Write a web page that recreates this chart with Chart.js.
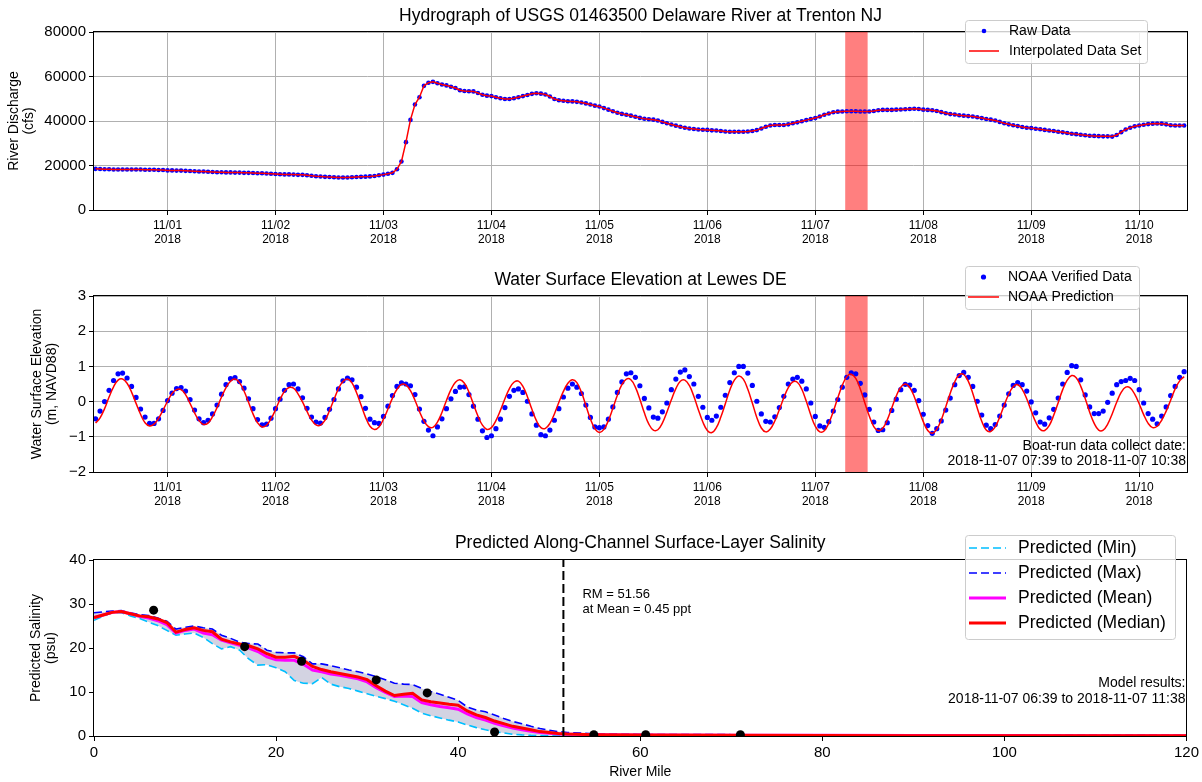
<!DOCTYPE html>
<html><head><meta charset="utf-8">
<script src="https://cdn.jsdelivr.net/npm/chart.js@4.4.1/dist/chart.umd.min.js"></script>
<style>
html,body{margin:0;padding:0;background:#fff;width:1202px;height:782px;overflow:hidden}
canvas{position:absolute;left:0}
#c1{top:0;width:1202px;height:262px}
#c2{top:262px;width:1202px;height:262px}
#c3{top:524px;width:1202px;height:258px}
</style></head><body>
<canvas id="c1" width="1202" height="262"></canvas>
<canvas id="c2" width="1202" height="262"></canvas>
<canvas id="c3" width="1202" height="258"></canvas>
<script>
// ---------------- DATA ----------------
// Panel 1: USGS discharge (cfs), hourly, starting 2018-10-31 08:00
const dischargeOct31 = [18500,18400,18300,18300,18200,18200,18200,18200,18200,18200,18200,18100,18100,18100,18000,18000];
const dischargeNov01 = [17800,17800,17700,17700,17600,17500,17400,17300,17300,17200,17100,17000,17000,16900,16900,16800,16800,16700,16700,16600,16500,16500,16400,16300];
const dischargeNov02 = [16200,16100,16000,16000,15900,15800,15800,15600,15400,15200,15050,14900,14800,14700,14600,14600,14600,14700,14800,14900,15000,15100,15300,15600];
const dischargeNov03 = [15900,16300,16700,18300,21800,30500,40500,47400,50700,55800,57200,57600,57000,56400,56000,55400,54800,53800,53500,53400,53300,52600,51800,51400];
const dischargeNov04 = [51200,50700,50200,49900,49900,50200,50700,51200,51700,52200,52500,52300,51900,51000,49900,49300,49100,48900,48800,48600,48300,47900,47400,46900];
const dischargeNov05 = [46500,45800,45100,44400,43700,43200,42800,42400,41900,41400,41000,40800,40600,40200,39600,39000,38400,37900,37400,37000,36600,36400,36200,36100];
const dischargeNov06 = [36000,35800,35700,35500,35300,35200,35200,35200,35200,35300,35500,35900,36600,37400,38000,38200,38200,38200,38500,39000,39400,39900,40400,40900];
const dischargeNov07 = [41300,42000,42800,43400,43900,44200,44300,44400,44400,44400,44300,44300,44300,44500,44800,45000,45000,45000,45100,45200,45300,45400,45500,45400];
const dischargeNov08 = [45100,45000,44800,44500,44000,43500,43100,42900,42600,42400,42200,42000,41700,41300,40900,40600,40200,39600,39000,38500,38100,37700,37300,37000];
const dischargeNov09 = [36800,36500,36300,36000,35750,35500,35200,34900,34600,34300,34100,33800,33600,33400,33300,33200,33100,33100,33000,33700,35000,36200,37000,37600];
const dischargeNov10 = [38000,38300,38600,38800,38900,38800,38500,38100,38000,38000,37950];

// Panel 2: NOAA water level at Lewes (m, NAVD88), hourly, starting 2018-10-31 08:00
const verifiedOct31 = [-0.49,-0.27,0.0,0.32,0.6,0.79,0.81,0.67,0.43,0.12,-0.21,-0.44,-0.62,-0.62,-0.49,-0.25];
const verifiedNov01 = [0.03,0.24,0.37,0.4,0.3,0.06,-0.24,-0.49,-0.6,-0.53,-0.35,-0.1,0.21,0.48,0.65,0.68,0.57,0.38,0.08,-0.2,-0.51,-0.66,-0.64,-0.47];
const verifiedNov02 = [-0.2,0.07,0.32,0.48,0.5,0.36,0.11,-0.19,-0.44,-0.58,-0.61,-0.45,-0.22,0.06,0.36,0.59,0.67,0.62,0.41,0.14,-0.19,-0.5,-0.6,-0.62];
const verifiedNov03 = [-0.42,-0.13,0.17,0.43,0.53,0.5,0.45,0.2,-0.21,-0.56,-0.81,-0.97,-0.72,-0.49,-0.2,0.08,0.29,0.41,0.42,0.2,-0.13,-0.5,-0.83,-1.02];
const verifiedNov04 = [-0.97,-0.77,-0.5,-0.17,0.15,0.32,0.36,0.26,0.01,-0.35,-0.67,-0.94,-0.97,-0.81,-0.53,-0.2,0.13,0.38,0.5,0.41,0.23,-0.1,-0.45,-0.72];
const verifiedNov05 = [-0.74,-0.72,-0.5,-0.15,0.26,0.56,0.79,0.82,0.69,0.45,0.09,-0.18,-0.44,-0.47,-0.29,-0.04,0.34,0.64,0.84,0.9,0.71,0.5,0.15,-0.16];
const verifiedNov06 = [-0.45,-0.53,-0.41,-0.16,0.18,0.54,0.82,1.0,1.0,0.81,0.46,0.01,-0.35,-0.56,-0.58,-0.43,-0.17,0.15,0.5,0.64,0.69,0.58,0.36,-0.04];
const verifiedNov07 = [-0.42,-0.69,-0.73,-0.57,-0.27,0.06,0.41,0.69,0.82,0.79,0.52,0.19,-0.22,-0.58,-0.82,-0.8,-0.6,-0.25,0.07,0.34,0.49,0.47,0.32,0.03];
const verifiedNov08 = [-0.36,-0.68,-0.9,-0.77,-0.55,-0.24,0.1,0.48,0.74,0.83,0.69,0.43,0.01,-0.38,-0.67,-0.77,-0.65,-0.41,-0.1,0.22,0.46,0.54,0.48,0.3];
const verifiedNov09 = [-0.01,-0.32,-0.58,-0.64,-0.46,-0.22,0.1,0.5,0.83,1.02,1.0,0.62,0.19,-0.15,-0.34,-0.34,-0.27,-0.02,0.24,0.48,0.57,0.6,0.66,0.6];
const verifiedNov10 = [0.34,-0.04,-0.34,-0.5,-0.63,-0.41,-0.15,0.17,0.43,0.69,0.85];

const predictedOct31 = [-0.61,-0.46,-0.2,0.13,0.42,0.61,0.64,0.52,0.27,-0.05,-0.36,-0.6,-0.69,-0.64,-0.48,-0.24];
const predictedNov01 = [0.01,0.23,0.34,0.34,0.2,-0.05,-0.32,-0.54,-0.65,-0.61,-0.43,-0.17,0.13,0.4,0.58,0.64,0.54,0.3,-0.02,-0.35,-0.6,-0.72,-0.67,-0.49];
const predictedNov02 = [-0.23,0.06,0.29,0.4,0.38,0.22,-0.01,-0.28,-0.52,-0.66,-0.67,-0.53,-0.26,0.06,0.37,0.57,0.64,0.53,0.26,-0.09,-0.44,-0.7,-0.79,-0.72];
const predictedNov03 = [-0.5,-0.21,0.1,0.35,0.49,0.47,0.31,0.04,-0.28,-0.55,-0.71,-0.73,-0.58,-0.31,0.03,0.34,0.55,0.62,0.52,0.27,-0.07,-0.41,-0.67,-0.79];
const predictedNov04 = [-0.74,-0.54,-0.25,0.08,0.37,0.55,0.58,0.43,0.14,-0.22,-0.54,-0.74,-0.76,-0.62,-0.35,-0.02,0.29,0.52,0.62,0.54,0.27,-0.11,-0.49,-0.77];
const predictedNov05 = [-0.88,-0.79,-0.54,-0.19,0.18,0.48,0.64,0.62,0.41,0.07,-0.32,-0.64,-0.81,-0.8,-0.61,-0.3,0.05,0.37,0.58,0.61,0.46,0.15,-0.23,-0.58];
const predictedNov06 = [-0.82,-0.88,-0.74,-0.44,-0.06,0.33,0.61,0.73,0.64,0.35,-0.04,-0.45,-0.75,-0.86,-0.78,-0.55,-0.23,0.11,0.4,0.56,0.55,0.35,0.01,-0.38];
const predictedNov07 = [-0.7,-0.86,-0.83,-0.61,-0.28,0.11,0.46,0.71,0.78,0.66,0.36,-0.03,-0.41,-0.71,-0.83,-0.76,-0.52,-0.18,0.16,0.41,0.5,0.4,0.14,-0.22];
const predictedNov08 = [-0.57,-0.82,-0.9,-0.79,-0.52,-0.15,0.24,0.56,0.76,0.77,0.58,0.24,-0.18,-0.56,-0.81,-0.85,-0.72,-0.44,-0.1,0.21,0.42,0.48,0.35,0.08];
const predictedNov09 = [-0.26,-0.58,-0.79,-0.82,-0.68,-0.39,-0.03,0.34,0.61,0.74,0.68,0.44,0.09,-0.3,-0.62,-0.81,-0.81,-0.64,-0.35,-0.02,0.26,0.41,0.39,0.21];
const predictedNov10 = [-0.06,-0.37,-0.62,-0.74,-0.7,-0.53,-0.27,0.04,0.36,0.59,0.71];

// Time axis tick labels
const dayTickValues = [0,1,2,3,4,5,6,7,8,9];
const dayTickLabels = ['11/01','11/02','11/03','11/04','11/05','11/06','11/07','11/08','11/09','11/10'];
const yearTickLabel = '2018';
const dischargeTicks = [0,20000,40000,60000,80000];
const elevationTicks = [-2,-1,0,1,2,3];

// Panel 3: along-channel salinity (psu) vs river mile
const riverMiles = [0,1,2,3,4,5,6,7,8,9,10,11,12,13,14,15,16,17,18,19,20,21,22,23,24,25,26,27,28,29,30,31,32,33,34,35,36,37,38,39,40,41,42,43,44,45,46,47,48,49,50,51,52,55,60,70,80,90,100,110,120];
const salinityMin = [26.3,27.2,28.0,28.0,27.3,26.7,25.9,25.1,24.0,22.9,23.2,23.4,22.4,21.0,19.8,20.3,19.5,17.5,16.1,16.2,15.5,14.6,12.6,12.0,11.9,13.3,11.8,11.2,10.8,10.2,9.6,9.0,8.5,7.9,7.1,6.3,5.2,4.6,4.1,3.6,3.2,2.5,1.9,1.4,1.0,0.7,0.4,0.25,0.15,0.1,0.05,0.03,0.02,0.01,0.01,0,0,0,0,0,0];
const salinityMax = [28.0,28.2,28.4,28.5,28.0,27.6,27.4,26.8,26.1,24.3,24.7,25.0,24.6,24.3,22.9,22.2,21.3,21.0,20.9,19.5,19.0,18.9,18.9,18.0,16.4,16.4,16.0,15.5,15.0,14.6,14.1,13.5,12.8,12.0,11.8,11.7,10.8,10.1,9.5,8.8,8.1,6.6,5.9,5.5,4.8,4.0,3.3,2.8,2.2,1.7,1.3,1.0,0.8,0.5,0.35,0.3,0.25,0.2,0.2,0.15,0.15];
const salinityMean = [26.9,27.5,28.1,28.3,27.8,27.2,26.8,26.2,25.3,23.4,24.0,24.3,23.4,23.0,21.8,21.2,20.6,20.0,19.2,18.0,17.3,17.2,17.2,16.3,15.0,14.6,14.1,13.8,13.4,13.0,12.3,11.0,9.9,9.0,9.1,9.0,7.6,7.1,6.7,6.4,6.1,5.0,4.2,3.6,2.9,2.3,1.8,1.4,1.1,0.8,0.6,0.47,0.4,0.3,0.22,0.18,0.15,0.12,0.1,0.08,0.07];
const salinityMedian = [26.9,27.5,28.1,28.3,27.8,27.3,27.1,26.6,25.8,23.6,24.2,24.6,24.0,23.7,22.0,21.4,20.9,20.5,19.8,18.7,17.9,17.9,18.1,17.2,15.8,15.1,14.6,14.2,13.8,13.4,12.8,11.4,10.2,9.2,9.5,9.7,8.2,7.8,7.5,7.2,7.0,5.7,4.8,4.2,3.4,2.8,2.2,1.8,1.4,1.0,0.8,0.55,0.45,0.3,0.2,0.15,0.1,0.08,0.06,0.05,0.05];
const observedMiles = [6.55,16.55,22.8,31.0,36.6,44.0,54.9,60.6,71.0];
const observedSalinity = [28.6,20.3,17.0,12.75,9.8,0.9,0.3,0.3,0.3];
const salinityTicks = [0,10,20,30,40];
const mileTicks = [0,20,40,60,80,100,120];
const rmAtMean = 51.56;
const meanAtRm = 0.45;

// Times (hours of 2018-11-07)
const boatStart = '07:39', boatEnd = '10:38';
const modelStart = '06:39', modelEnd = '11:38';
const windowStart = '2018-10-31 07:39', windowEnd = '2018-11-10 10:38';

// ---------------- HELPERS ----------------
const FONT = "'Liberation Sans', Arial, Helvetica, sans-serif";
Chart.defaults.font.family = FONT;
Chart.defaults.color = '#000';
Chart.defaults.animation = false;

const TITLE_SIZE = 17.5;
const TICK_SIZE = 15;

const hm = s => { const [h, m] = s.split(':').map(Number); return (h + m / 60) / 24; };
const dayOffset = s => { // days since 2018-11-01 00:00
  const [d, t] = s.split(' '); const day = Number(d.slice(8, 10)); const mon = Number(d.slice(5, 7));
  const base = mon === 10 ? day - 32 : day - 1; return base + hm(t);
};
const xMin = dayOffset(windowStart), xMax = dayOffset(windowEnd);
const firstHour = -16 / 24; // first hourly sample 2018-10-31 08:00
const hourly = arr => arr.map((v, i) => ({ x: firstHour + i / 24, y: v }));

const discharge = [].concat(dischargeOct31, dischargeNov01, dischargeNov02, dischargeNov03, dischargeNov04, dischargeNov05, dischargeNov06, dischargeNov07, dischargeNov08, dischargeNov09, dischargeNov10);
const verified = [].concat(verifiedOct31, verifiedNov01, verifiedNov02, verifiedNov03, verifiedNov04, verifiedNov05, verifiedNov06, verifiedNov07, verifiedNov08, verifiedNov09, verifiedNov10);
const predicted = [].concat(predictedOct31, predictedNov01, predictedNov02, predictedNov03, predictedNov04, predictedNov05, predictedNov06, predictedNov07, predictedNov08, predictedNov09, predictedNov10);
const pair = (xs, ys) => xs.map((x, i) => ({ x, y: ys[i] }));

const GRID = '#b0b0b0';

function timeAxis(h) {
  return {
    type: 'linear', min: xMin, max: xMax,
    afterBuildTicks: ax => { ax.ticks = dayTickValues.map(v => ({ value: v })); },
    afterFit: ax => { ax.height = h; },
    ticks: { autoSkip: false, maxRotation: 0, minRotation: 0, padding: 4, color: '#000',
      font: { size: 12, lineHeight: 1.15 },
      callback: v => [dayTickLabels[Math.round(v)], yearTickLabel] },
    grid: { color: GRID, lineWidth: 1, tickColor: '#000', tickLength: 5 },
    border: { display: false }
  };
}

function valueAxis(min, max, ticks, title, titlePad, fmt, grid) {
  return {
    type: 'linear', min, max,
    afterBuildTicks: ax => { ax.ticks = ticks.map(v => ({ value: v })); },
    afterFit: ax => { ax.width = 94; },
    ticks: { padding: 3, color: '#000', font: { size: TICK_SIZE }, callback: fmt },
    title: { display: true, text: title, color: '#000', font: { size: 14, lineHeight: 1.1 }, padding: { top: titlePad, bottom: 0 } },
    grid: grid ? { color: GRID, lineWidth: 1, tickColor: '#000', tickLength: 5 } : { drawOnChartArea: false, tickColor: '#000', tickLength: 5 },
    border: { display: false }
  };
}

function roundRect(ctx, x, y, w, h, r) {
  ctx.beginPath();
  ctx.moveTo(x + r, y); ctx.lineTo(x + w - r, y); ctx.arcTo(x + w, y, x + w, y + r, r);
  ctx.lineTo(x + w, y + h - r); ctx.arcTo(x + w, y + h, x + w - r, y + h, r);
  ctx.lineTo(x + r, y + h); ctx.arcTo(x, y + h, x, y + h - r, r);
  ctx.lineTo(x, y + r); ctx.arcTo(x, y, x + r, y, r); ctx.closePath();
}

function decor(cfg) {
  return {
    id: 'decor',
    beforeDatasetsDraw(chart) {
      if (!cfg.span) return;
      const { ctx, chartArea: ca, scales } = chart;
      const x0 = scales.x.getPixelForValue(cfg.span[0]), x1 = scales.x.getPixelForValue(cfg.span[1]);
      ctx.save(); ctx.fillStyle = 'rgba(255,0,0,0.5)';
      ctx.fillRect(x0, ca.top, x1 - x0, ca.bottom - ca.top); ctx.restore();
    },
    afterDatasetsDraw(chart) {
      if (cfg.vline === undefined) return;
      const { ctx, chartArea: ca, scales } = chart;
      const x = scales.x.getPixelForValue(cfg.vline);
      ctx.save(); ctx.strokeStyle = '#000'; ctx.lineWidth = 2; ctx.setLineDash([9, 4]);
      ctx.beginPath(); ctx.moveTo(x, ca.bottom); ctx.lineTo(x, ca.top); ctx.stroke(); ctx.restore();
    },
    afterDraw(chart) {
      const { ctx, chartArea: ca, scales } = chart;
      ctx.save();
      ctx.strokeStyle = '#000'; ctx.lineWidth = 1;
      ctx.strokeRect(Math.round(ca.left) - 0.5, Math.round(ca.top) - 0.5, Math.round(ca.right - ca.left) + 1, Math.round(ca.bottom - ca.top) + 1);
      (cfg.texts || []).forEach(t => {
        ctx.font = t.size + 'px ' + FONT; ctx.fillStyle = '#000'; ctx.textBaseline = 'middle';
        ctx.textAlign = t.align;
        const x = t.xVal !== undefined ? scales.x.getPixelForValue(t.xVal) + t.dx : ca.right + t.dx;
        ctx.fillText(t.text, x, t.y);
      });
      const L = cfg.legend;
      if (L) {
        roundRect(ctx, L.x + 0.5, L.y + 0.5, L.w, L.h, 3);
        ctx.fillStyle = 'rgba(255,255,255,0.8)'; ctx.fill();
        ctx.strokeStyle = '#cccccc'; ctx.lineWidth = 1; ctx.stroke();
        ctx.font = L.size + 'px ' + FONT; ctx.textBaseline = 'middle'; ctx.textAlign = 'left';
        L.order.forEach((dsIndex, k) => {
          const ds = chart.data.datasets[dsIndex];
          const y = L.rowY[k];
          if (ds.showLine === false) {
            ctx.beginPath(); ctx.arc((L.sx0 + L.sx1) / 2, y, ds.pointRadius, 0, Math.PI * 2);
            ctx.fillStyle = ds.pointBackgroundColor; ctx.fill();
          } else {
            ctx.beginPath(); ctx.setLineDash(ds.borderDash || []);
            ctx.strokeStyle = ds.borderColor; ctx.lineWidth = ds.borderWidth;
            ctx.moveTo(L.sx0, y); ctx.lineTo(L.sx1, y); ctx.stroke(); ctx.setLineDash([]);
          }
          ctx.fillStyle = '#000'; ctx.fillText(ds.label, L.tx, y);
        });
      }
      ctx.restore();
    }
  };
}

const span = [6 + hm(modelStart), 6 + hm(modelEnd)];
const common = { responsive: false, maintainAspectRatio: false, devicePixelRatio: 1, animation: false, layout: { padding: { left: 0, right: 15, top: 0, bottom: 0 } } };
const titleOpts = (text, top, bottom) => ({ display: true, fullSize: false, text, color: '#000', font: { size: TITLE_SIZE, weight: 'normal', lineHeight: 1.2 }, padding: { top, bottom } });

// ---------------- CHART 1 ----------------
new Chart(document.getElementById('c1'), {
  type: 'line',
  data: { datasets: [
    { label: 'Interpolated Data Set', data: hourly(discharge), borderColor: '#ff0000', borderWidth: 1.5, pointRadius: 0, tension: 0 },
    { label: 'Raw Data', data: hourly(discharge), showLine: false, pointRadius: 2.3, pointBackgroundColor: '#0000ff', pointBorderWidth: 0, pointBorderColor: 'rgba(0,0,255,0)' }
  ] },
  options: Object.assign({}, common, {
    plugins: { legend: { display: false }, tooltip: { enabled: false },
      title: titleOpts('Hydrograph of USGS 01463500 Delaware River at Trenton NJ', 5.5, 5.5) },
    scales: {
      x: timeAxis(52),
      y: valueAxis(0, 80000, dischargeTicks, ['River Discharge', '(cfs)'], 6, v => String(v), true)
    }
  }),
  plugins: [decor({ span, legend: { x: 965, y: 20, w: 182, h: 43, size: 14, rowY: [31, 51], sx0: 969, sx1: 999, tx: 1009, order: [1, 0] } })]
});

// ---------------- CHART 2 ----------------
new Chart(document.getElementById('c2'), {
  type: 'line',
  data: { datasets: [
    { label: 'NOAA Prediction', data: hourly(predicted), borderColor: '#ff0000', borderWidth: 1.5, pointRadius: 0, tension: 0.4 },
    { label: 'NOAA Verified Data', data: hourly(verified), showLine: false, pointRadius: 2.6, pointBackgroundColor: '#0000ff', pointBorderWidth: 0, pointBorderColor: 'rgba(0,0,255,0)' }
  ] },
  options: Object.assign({}, common, {
    plugins: { legend: { display: false }, tooltip: { enabled: false },
      title: titleOpts('Water Surface Elevation at Lewes DE', 7.5, 5.5) },
    scales: {
      x: timeAxis(52),
      y: valueAxis(-2, 3, elevationTicks, ['Water Surface Elevation', '(m, NAVD88)'], 29, v => (v < 0 ? '\u2212' + Math.abs(v) : String(v)), true)
    }
  }),
  plugins: [decor({ span,
    texts: [
      { text: 'Boat-run data collect date:', align: 'right', dx: -1, y: 184, size: 14 },
      { text: '2018-11-07 ' + boatStart + ' to 2018-11-07 ' + boatEnd, align: 'right', dx: -1, y: 199, size: 14 }
    ],
    legend: { x: 965, y: 4, w: 174, h: 43, size: 14, rowY: [15, 35], sx0: 968, sx1: 999, tx: 1008, order: [1, 0] } })]
});

// ---------------- CHART 3 ----------------
new Chart(document.getElementById('c3'), {
  type: 'line',
  data: { datasets: [
    { label: 'Observed', data: pair(observedMiles, observedSalinity), showLine: false, pointRadius: 4.5, pointBackgroundColor: '#000', pointBorderWidth: 0 },
    { label: 'Predicted (Median)', data: pair(riverMiles, salinityMedian), borderColor: '#ff0000', borderWidth: 3, pointRadius: 0, tension: 0 },
    { label: 'Predicted (Mean)', data: pair(riverMiles, salinityMean), borderColor: '#ff00ff', borderWidth: 3, pointRadius: 0, tension: 0 },
    { label: 'Predicted (Max)', data: pair(riverMiles, salinityMax), borderColor: '#0000ff', borderWidth: 1.6, borderDash: [8, 4], pointRadius: 0, tension: 0, fill: '+1', backgroundColor: 'rgba(150,150,185,0.42)' },
    { label: 'Predicted (Min)', data: pair(riverMiles, salinityMin), borderColor: '#00bfff', borderWidth: 1.6, borderDash: [8, 4], pointRadius: 0, tension: 0 }
  ] },
  options: Object.assign({}, common, {
    plugins: { legend: { display: false }, tooltip: { enabled: false }, filler: { drawTime: 'beforeDatasetsDraw' },
      title: titleOpts('Predicted Along-Channel Surface-Layer Salinity', 9, 6) },
    scales: {
      x: { type: 'linear', min: 0, max: 120,
        afterBuildTicks: ax => { ax.ticks = mileTicks.map(v => ({ value: v })); },
        afterFit: ax => { ax.height = 46; },
        ticks: { padding: 3, color: '#000', font: { size: TICK_SIZE }, maxRotation: 0 },
        title: { display: true, text: 'River Mile', color: '#000', font: { size: 14 }, padding: { top: 0, bottom: 1 } },
        grid: { drawOnChartArea: false, tickColor: '#000', tickLength: 5 }, border: { display: false } },
      y: valueAxis(0, 40, salinityTicks, ['Predicted Salinity', '(psu)'], 28, v => String(v), false)
    }
  }),
  plugins: [decor({ vline: rmAtMean,
    texts: [
      { text: 'RM = ' + rmAtMean.toFixed(2), align: 'left', xVal: rmAtMean, dx: 19, y: 70, size: 13 },
      { text: 'at Mean = ' + meanAtRm.toFixed(2) + ' ppt', align: 'left', xVal: rmAtMean, dx: 19, y: 85, size: 13 },
      { text: 'Model results:', align: 'right', dx: -1, y: 159, size: 14 },
      { text: '2018-11-07 ' + modelStart + ' to 2018-11-07 ' + modelEnd, align: 'right', dx: -1, y: 175, size: 14 }
    ],
    legend: { x: 965, y: 11, w: 210, h: 104, size: 17.5, rowY: [24, 49, 74, 99], sx0: 969, sx1: 1006, tx: 1018, order: [4, 3, 2, 1] } })]
});
</script>
</body></html>
